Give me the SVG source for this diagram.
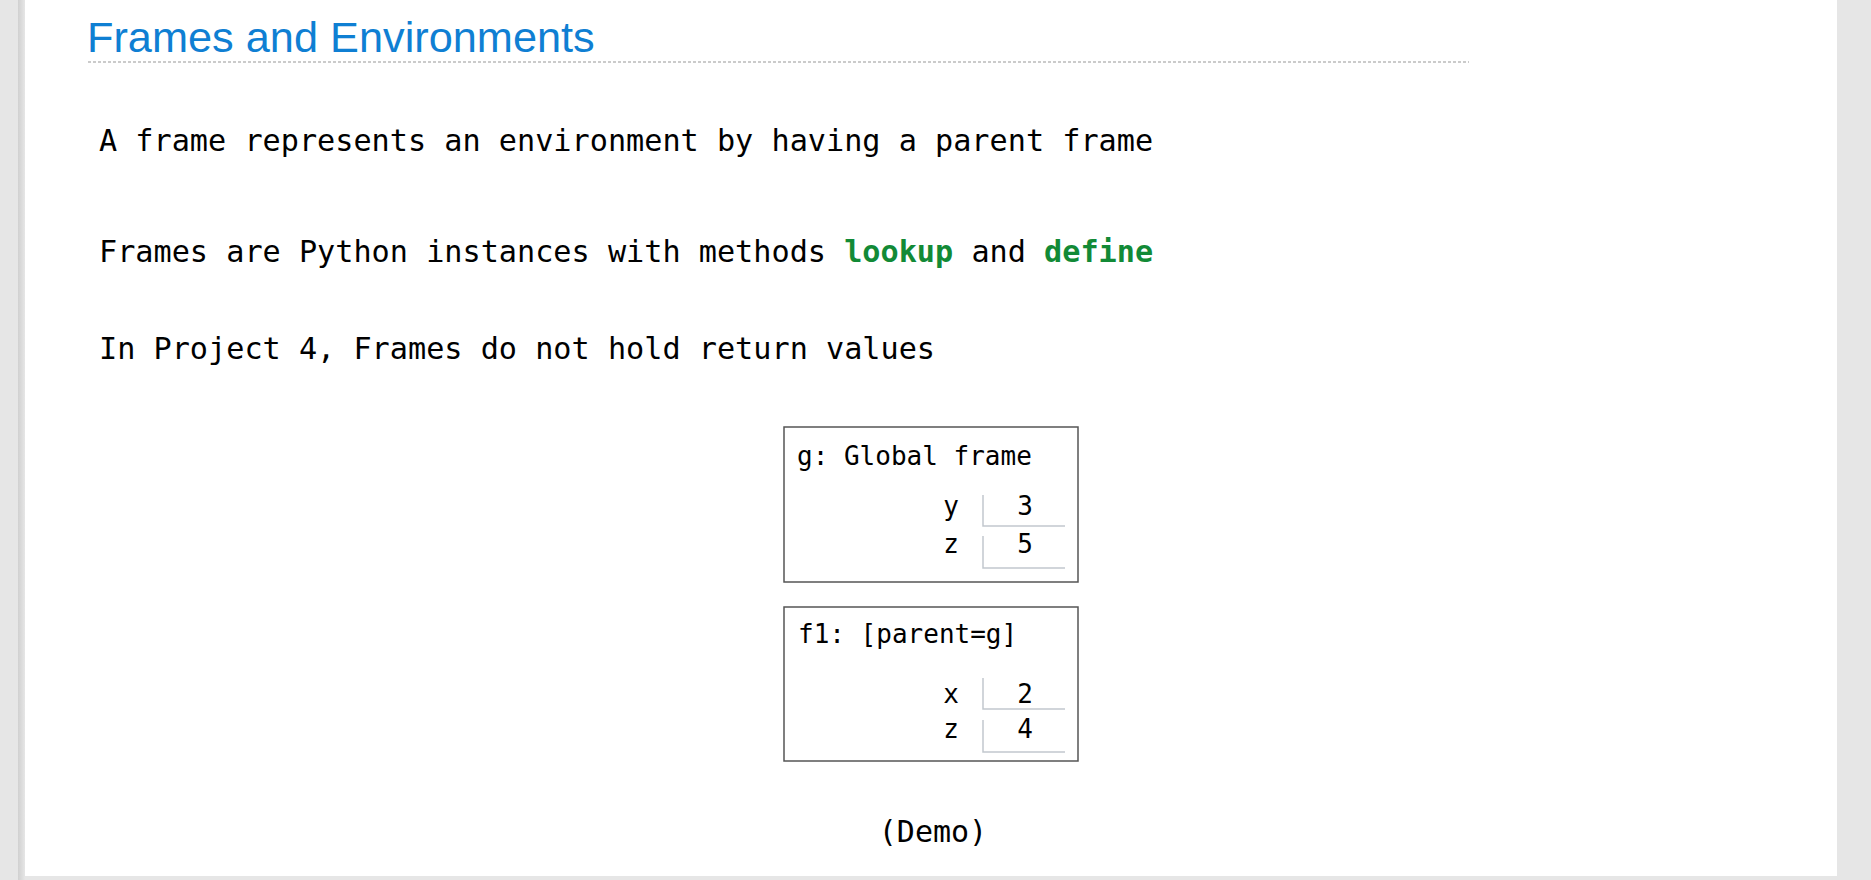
<svg xmlns="http://www.w3.org/2000/svg" width="1871" height="880" viewBox="0 0 1871 880">
<defs>
<style>
.bg{fill:#e6e6e6}
.panel{fill:#ffffff}
.title{font-family:"Liberation Sans",Arial,sans-serif;font-size:43.3px;fill:#0f7fd3}
.body{font-family:"DejaVu Sans Mono",monospace;font-size:30.2px;fill:#000}
.kw{font-weight:bold;fill:#128a36}
.frame{fill:#fff;stroke:#555;stroke-width:1.5}
.flabel{font-family:"DejaVu Sans Mono",monospace;font-size:26px;fill:#000}
.var{font-family:"DejaVu Sans Mono",monospace;font-size:26px;fill:#000;text-anchor:middle}
.cell{fill:none;stroke:#c2c8ce;stroke-width:1.5}
</style>
<linearGradient id="shadow" x1="0" x2="1" y1="0" y2="0">
<stop offset="0" stop-color="#d0d0d0"/>
<stop offset="1" stop-color="#e6e6e6"/>
</linearGradient>
</defs>
<rect class="bg" x="0" y="0" width="1871" height="880"/>
<rect x="18" y="0" width="7" height="880" fill="url(#shadow)"/>
<rect class="panel" x="25" y="0" width="1812" height="876"/>
<text class="title" x="87" y="52">Frames and Environments</text>
<line x1="88" y1="62" x2="1469" y2="62" stroke="#bbbbbb" stroke-width="1.3" stroke-dasharray="3 2"/>
<text class="body" x="99" y="151">A frame represents an environment by having a parent frame</text>
<text class="body" x="99" y="262">Frames are Python instances with methods <tspan class="kw">lookup</tspan> and <tspan class="kw">define</tspan></text>
<text class="body" x="99" y="359">In Project 4, Frames do not hold return values</text>
<g id="global-frame">
<rect class="frame" x="784" y="427" width="294" height="155"/>
<text class="flabel" x="797" y="465">g: Global frame</text>
<text class="var" x="951" y="515">y</text>
<path class="cell" d="M983,495 V526 H1065"/>
<text class="var" x="1025" y="515">3</text>
<text class="var" x="951" y="553">z</text>
<path class="cell" d="M983,536 V568 H1065"/>
<text class="var" x="1025" y="553">5</text>
</g>
<g id="f1-frame">
<rect class="frame" x="784" y="607" width="294" height="154"/>
<text class="flabel" x="798" y="643">f1: [parent=g]</text>
<text class="var" x="951" y="703">x</text>
<path class="cell" d="M983,678 V709 H1065"/>
<text class="var" x="1025" y="703">2</text>
<text class="var" x="951" y="738">z</text>
<path class="cell" d="M983,720 V752 H1065"/>
<text class="var" x="1025" y="738">4</text>
</g>
<g id="connectors"/>
<text class="body" x="933" y="842" text-anchor="middle" style="font-size:30px">(Demo)</text>
</svg>
